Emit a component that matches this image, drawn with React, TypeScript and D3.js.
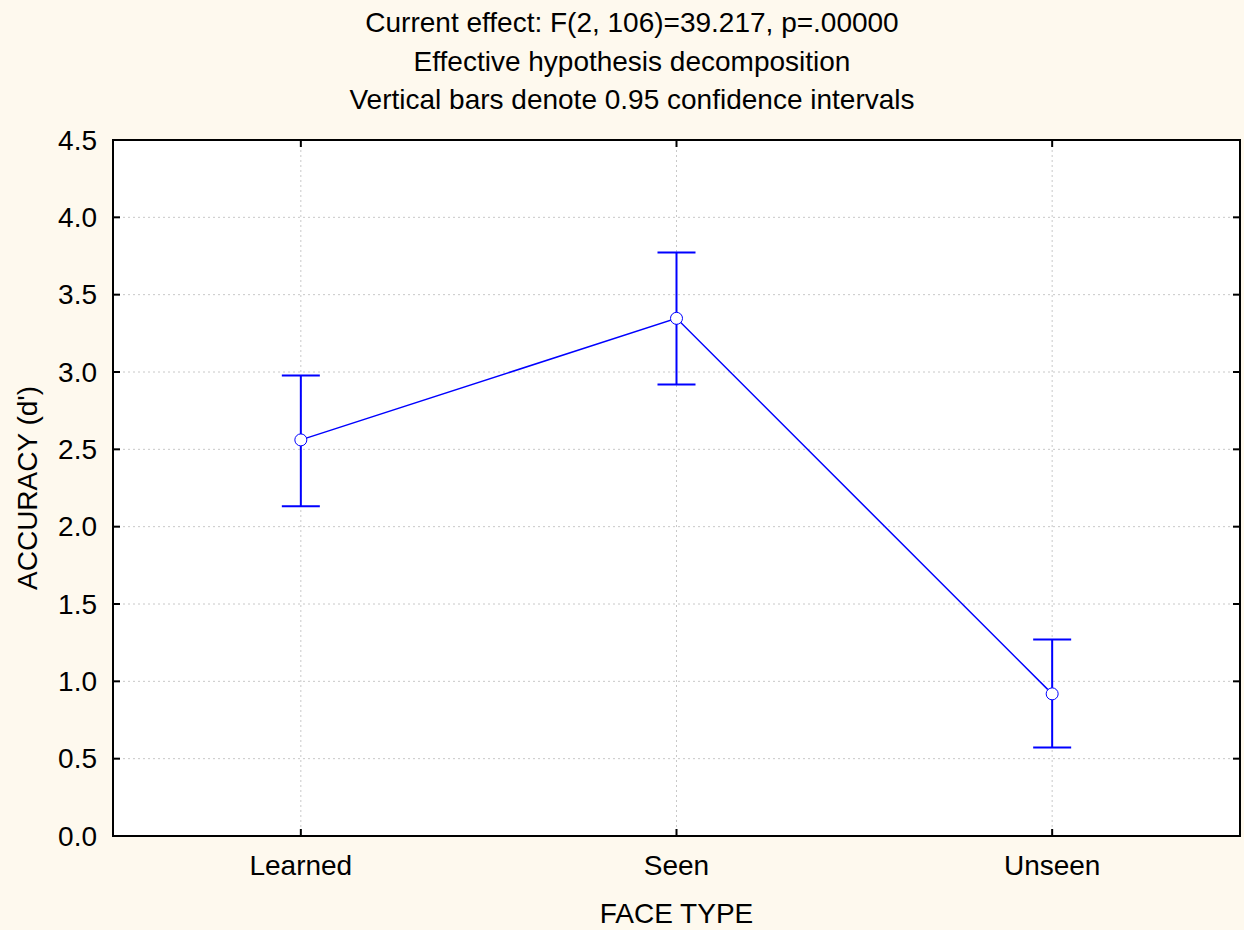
import React from "react";
import * as d3 from "d3";

const titleLines = [
  "Current effect: F(2, 106)=39.217, p=.00000",
  "Effective hypothesis decomposition",
  "Vertical bars denote 0.95 confidence intervals",
];
const categories = ["Learned", "Seen", "Unseen"];
const means = [2.561, 3.347, 0.919];
const upper = [2.977, 3.772, 1.27];
const lower = [2.132, 2.919, 0.572];
const yTicks = [0, 0.5, 1, 1.5, 2, 2.5, 3, 3.5, 4, 4.5];
const xLabel = "FACE TYPE";
const yLabel = "ACCURACY (d')";

const W = 1244;
const H = 930;
const M = { left: 113, right: 1240, top: 140, bottom: 836 };
const FONT = "'Liberation Sans', Arial, sans-serif";
const BLUE = "#0000ff";
const FS = 28;

export default function App() {
  const x = d3.scalePoint<string>().domain(categories).range([M.left, M.right]).padding(0.5);
  const y = d3.scaleLinear().domain([0, 4.5]).range([M.bottom, M.top]);
  const line = d3
    .line<number>()
    .x((_, i) => x(categories[i]) as number)
    .y((d) => y(d));
  const tick = 7;
  const cap = 19;
  return (
    <svg
      width={W}
      height={H}
      style={{ position: "absolute", left: 0, top: 0, display: "block" }}
      fontFamily={FONT}
    >
      <rect x={0} y={0} width={W} height={H} fill="#fef9ee" />
      {titleLines.map((t, i) => (
        <text key={t} x={632} y={32 + i * 38.5} fontSize={FS} textAnchor="middle" fill="#000">
          {t}
        </text>
      ))}
      <rect x={M.left} y={M.top} width={M.right - M.left} height={M.bottom - M.top} fill="#fff" />
      {yTicks.slice(1, -1).map((v) => (
        <line key={"gy" + v} x1={M.left} x2={M.right} y1={y(v)} y2={y(v)} stroke="#c8c8c8" strokeWidth={1} strokeDasharray="2,3" />
      ))}
      {categories.map((c) => (
        <line key={"gx" + c} x1={x(c)} x2={x(c)} y1={M.top} y2={M.bottom} stroke="#c8c8c8" strokeWidth={1} strokeDasharray="2,3" />
      ))}
      <rect x={M.left} y={M.top} width={M.right - M.left} height={M.bottom - M.top} fill="none" stroke="#000" strokeWidth={2} />
      {yTicks.map((v) => (
        <g key={"ty" + v}>
          <line x1={M.left} x2={M.left + tick} y1={y(v)} y2={y(v)} stroke="#000" strokeWidth={2} />
          <line x1={M.right} x2={M.right - tick} y1={y(v)} y2={y(v)} stroke="#000" strokeWidth={2} />
          <text x={97} y={y(v)} dy="0.35em" fontSize={FS} textAnchor="end" fill="#000">
            {v.toFixed(1)}
          </text>
        </g>
      ))}
      {categories.map((c) => (
        <g key={"tx" + c}>
          <line x1={x(c)} x2={x(c)} y1={M.bottom} y2={M.bottom - tick} stroke="#000" strokeWidth={2} />
          <line x1={x(c)} x2={x(c)} y1={M.top} y2={M.top + tick} stroke="#000" strokeWidth={2} />
          <text x={x(c)} y={875} fontSize={FS} textAnchor="middle" fill="#000">
            {c}
          </text>
        </g>
      ))}
      <text x={(M.left + M.right) / 2} y={923} fontSize={FS} textAnchor="middle" fill="#000">
        {xLabel}
      </text>
      <text
        transform={`translate(37,${(M.top + M.bottom) / 2}) rotate(-90)`}
        fontSize={FS}
        textAnchor="middle"
        fill="#000"
      >
        {yLabel}
      </text>
      {categories.map((c, i) => {
        const cx = x(c) as number;
        return (
          <g key={"eb" + c} stroke={BLUE} strokeWidth={2}>
            <line x1={cx} x2={cx} y1={y(upper[i])} y2={y(lower[i])} />
            <line x1={cx - cap} x2={cx + cap} y1={y(upper[i])} y2={y(upper[i])} />
            <line x1={cx - cap} x2={cx + cap} y1={y(lower[i])} y2={y(lower[i])} />
          </g>
        );
      })}
      <path d={line(means) || ""} fill="none" stroke={BLUE} strokeWidth={1.5} />
      {categories.map((c, i) => (
        <circle key={"pt" + c} cx={x(c)} cy={y(means[i])} r={6} fill="#fff" stroke={BLUE} strokeWidth={1} />
      ))}
    </svg>
  );
}
